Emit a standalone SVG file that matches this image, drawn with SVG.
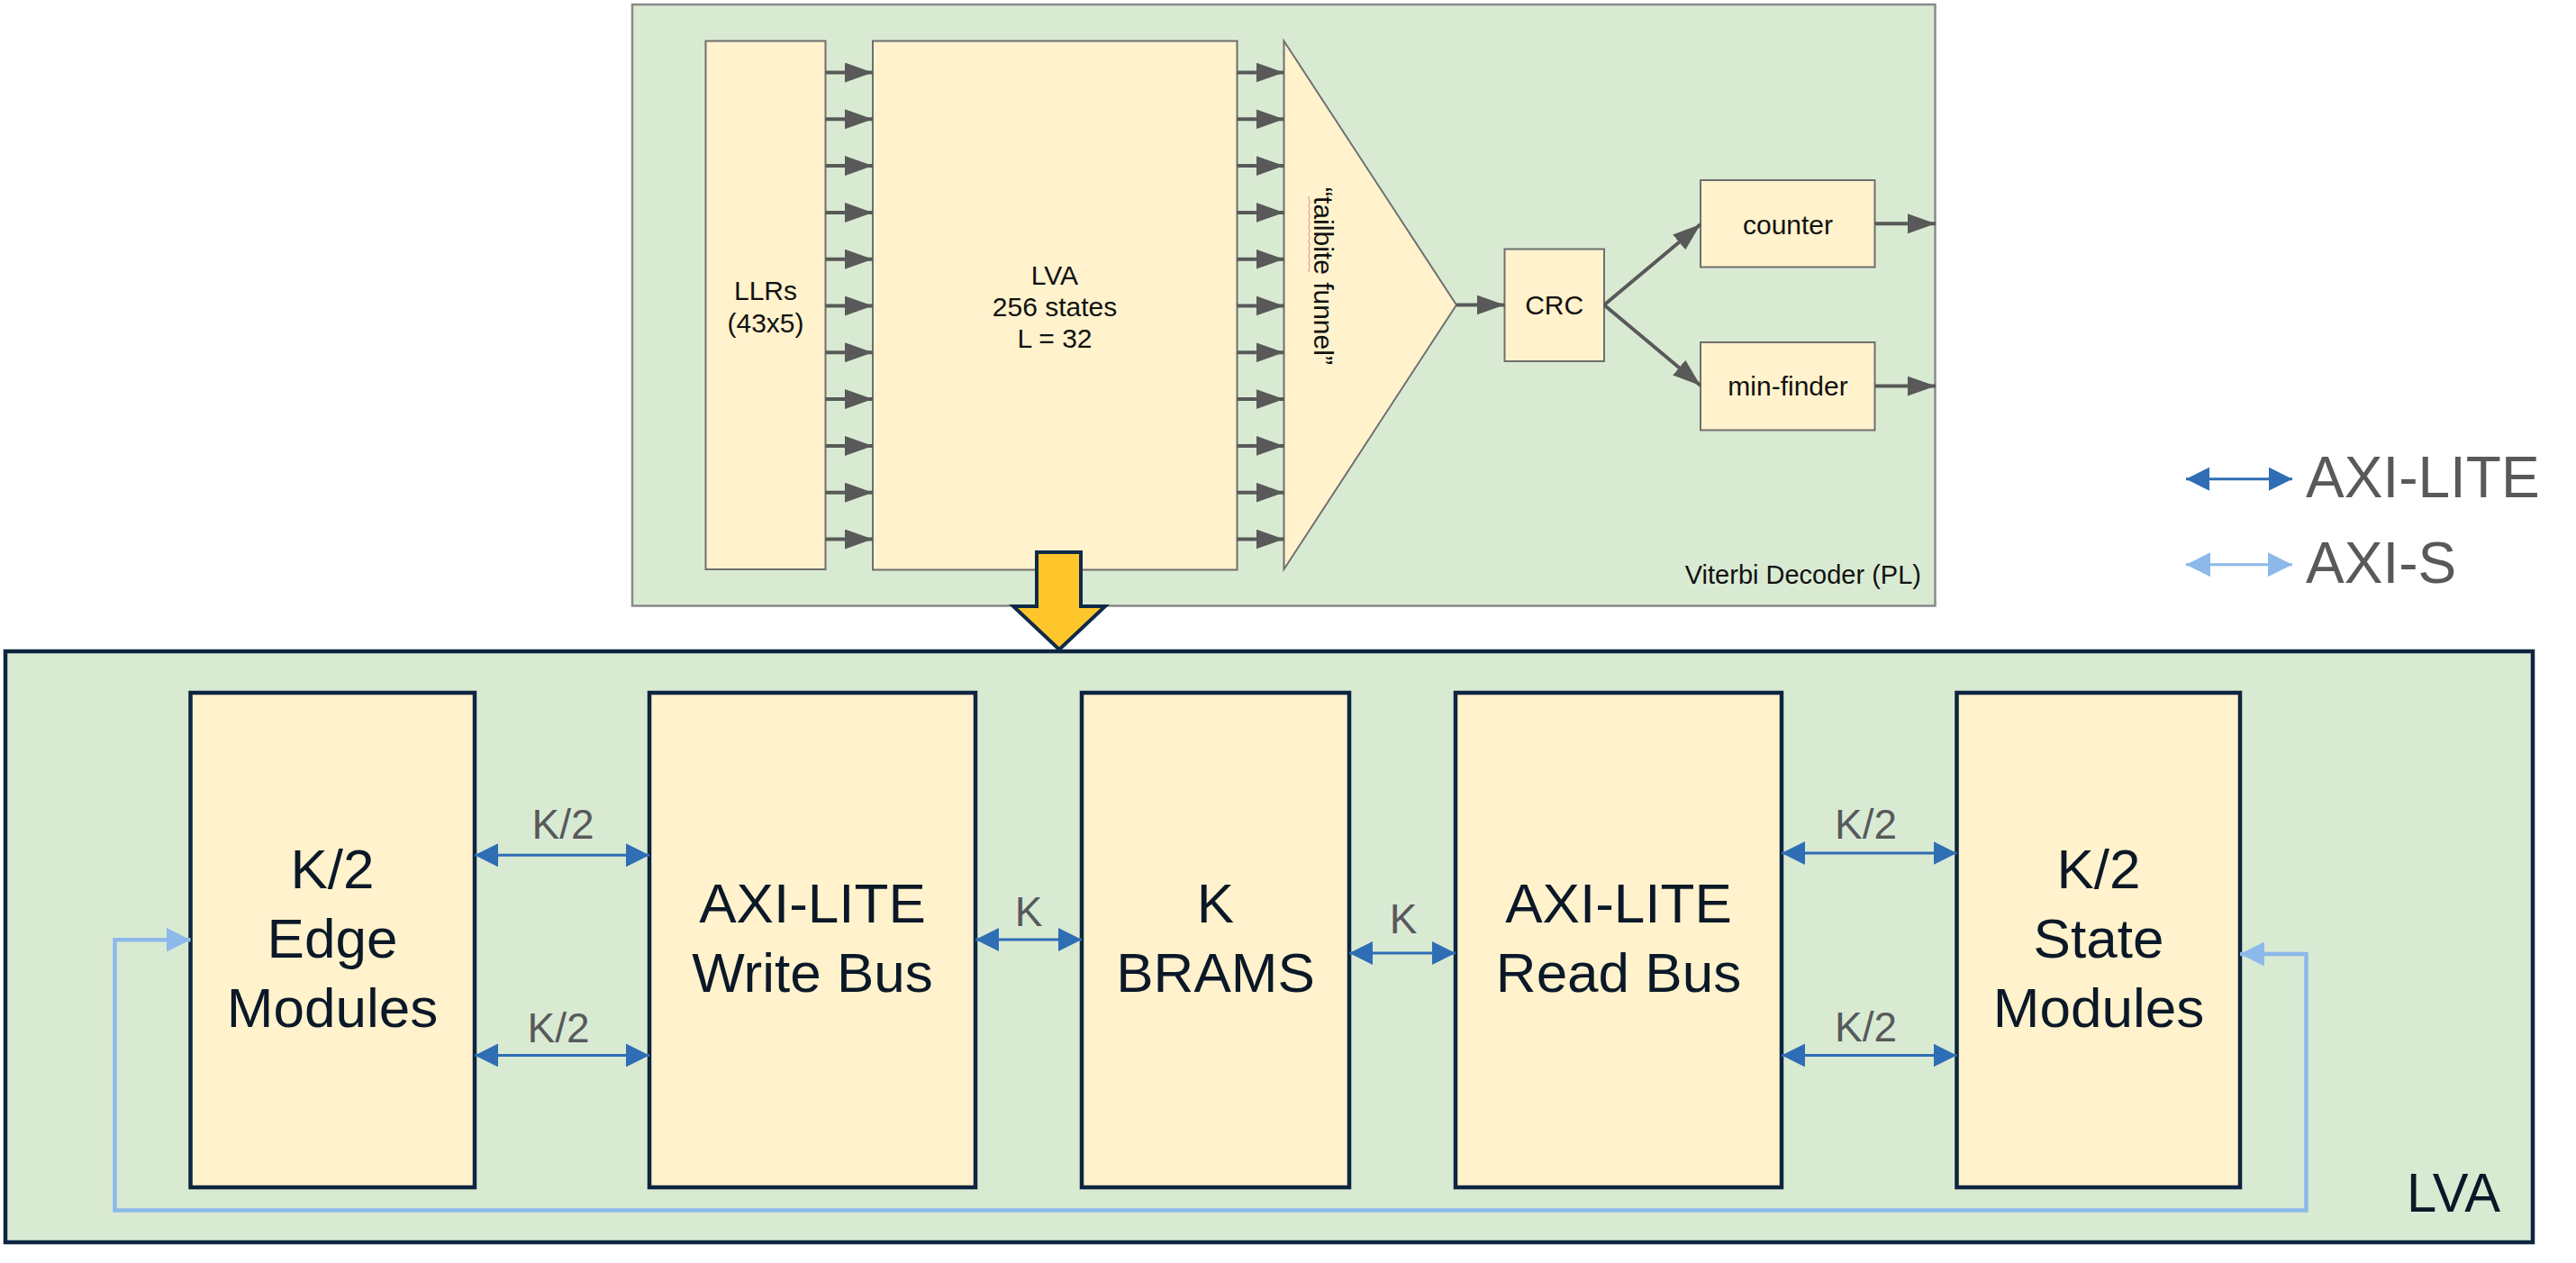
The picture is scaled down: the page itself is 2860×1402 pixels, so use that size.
<svg xmlns="http://www.w3.org/2000/svg" width="2860" height="1402" viewBox="0 0 2860 1402">
<defs>
<style>
.grp{fill:#d9ead3}
.tbox{fill:#fff2cc;stroke:#6f6f6f;stroke-width:2}
.bbox{fill:#fff2cc;stroke:#0d2540;stroke-width:4.5}
.ttxt{font-family:"Liberation Sans",Arial,sans-serif;font-size:30px;fill:#111;text-anchor:middle}
.btxt{font-family:"Liberation Sans",Arial,sans-serif;font-size:62px;fill:#0b1828;text-anchor:middle}
.lbl{font-family:"Liberation Sans",Arial,sans-serif;font-size:46px;fill:#58595b;text-anchor:middle}
.leg{font-family:"Liberation Sans",Arial,sans-serif;font-size:64px;fill:#58595b}
.ga{stroke:#595959;stroke-width:4;fill:none;marker-end:url(#mg)}
.ba{stroke:#2f6db5;stroke-width:3;fill:none;marker-start:url(#mb);marker-end:url(#mb)}
.sa{stroke:#8cb9e9;stroke-width:4.5;fill:none;marker-start:url(#ms);marker-end:url(#ms)}
</style>
<marker id="mg" markerUnits="userSpaceOnUse" markerWidth="31" markerHeight="22" refX="31" refY="11" orient="auto"><path d="M0,0 L31,11 L0,22 z" fill="#595959"/></marker>
<marker id="mb" markerUnits="userSpaceOnUse" markerWidth="26" markerHeight="26" refX="26" refY="13" orient="auto-start-reverse"><path d="M0,0 L26,13 L0,26 z" fill="#2f6db5"/></marker>
<marker id="ms" markerUnits="userSpaceOnUse" markerWidth="27" markerHeight="27" refX="27" refY="13.5" orient="auto-start-reverse"><path d="M0,0 L27,13.5 L0,27 z" fill="#8cb9e9"/></marker>
</defs>
<rect width="2860" height="1402" fill="#ffffff"/>

<!-- Viterbi decoder container -->
<g id="viterbi-decoder">
<rect class="grp" x="702" y="5" width="1446.5" height="667.5" stroke="#8a8a8a" stroke-width="2.5"/>
<text x="2133" y="647.5" class="ttxt" style="text-anchor:end;font-size:29px">Viterbi Decoder (PL)</text>
</g>
<g id="llrs">
<rect class="tbox" x="783.5" y="45.5" width="133" height="586.5"/>
<text class="ttxt" x="850" y="333">LLRs</text>
<text class="ttxt" x="850" y="368.5">(43x5)</text>
</g>
<g id="lva-top">
<rect class="tbox" x="969" y="45.5" width="404.5" height="587"/>
<text class="ttxt" x="1171" y="315.5">LVA</text>
<text class="ttxt" x="1171" y="350.5">256 states</text>
<text class="ttxt" x="1171" y="385.5">L = 32</text>
</g>
<g id="tailbite-funnel">
<polygon points="1425.5,45.5 1617,338.5 1425.5,632" fill="#fff2cc" stroke="#6f6f6f" stroke-width="2"/>
<text class="ttxt" transform="translate(1459,306.5) rotate(90)">“tailbite funnel”</text>
<path d="M1453.5,218 q-1.5,2 0,4 t0,4 t0,4 t0,4 t0,4 t0,4 t0,4 t0,4 t0,4 t0,4 t0,4 t0,4 t0,4 t0,4 t0,4 t0,4 t0,4 t0,4 t0,4 t0,4 t0,4" fill="none" stroke="#e88a8a" stroke-width="1"/>
</g>
<g id="crc">
<rect class="tbox" x="1670.5" y="276.5" width="110.5" height="124.5"/>
<text class="ttxt" x="1725.7" y="349">CRC</text>
</g>
<g id="counter">
<rect class="tbox" x="1888" y="200" width="193.5" height="96.5"/>
<text class="ttxt" x="1985" y="259.5">counter</text>
</g>
<g id="min-finder">
<rect class="tbox" x="1888" y="380" width="193.5" height="97.5"/>
<text class="ttxt" x="1985" y="439">min-finder</text>
</g>

<!-- LVA container -->
<g id="lva-container">
<rect class="grp" x="6" y="723" width="2806" height="656" stroke="#0d2540" stroke-width="4.5"/>
<text x="2776" y="1345" class="btxt" style="text-anchor:end;font-size:61px" textLength="104" lengthAdjust="spacingAndGlyphs">LVA</text>
</g>
<g id="edge-modules">
<rect class="bbox" x="211.5" y="769" width="315.5" height="549"/>
<text class="btxt" x="369" y="986">K/2</text>
<text class="btxt" x="369" y="1063">Edge</text>
<text class="btxt" x="369" y="1140">Modules</text>
</g>
<g id="write-bus">
<rect class="bbox" x="721" y="769" width="362" height="549"/>
<text class="btxt" x="902" y="1024">AXI-LITE</text>
<text class="btxt" x="902" y="1101">Write Bus</text>
</g>
<g id="brams">
<rect class="bbox" x="1201" y="769" width="297" height="549"/>
<text class="btxt" x="1349.5" y="1024">K</text>
<text class="btxt" x="1349.5" y="1101">BRAMS</text>
</g>
<g id="read-bus">
<rect class="bbox" x="1616" y="769" width="362" height="549"/>
<text class="btxt" x="1797" y="1024">AXI-LITE</text>
<text class="btxt" x="1797" y="1101">Read Bus</text>
</g>
<g id="state-modules">
<rect class="bbox" x="2172.5" y="769" width="314.5" height="549"/>
<text class="btxt" x="2330" y="986">K/2</text>
<text class="btxt" x="2330" y="1063">State</text>
<text class="btxt" x="2330" y="1140">Modules</text>
</g>

<!-- legend -->
<g id="legend">
<line class="ba" x1="2427" y1="531.7" x2="2545" y2="531.7"/>
<text class="leg" x="2560" y="551.7">AXI-LITE</text>
<line class="sa" x1="2427" y1="626.7" x2="2545" y2="626.7" style="stroke-width:3"/>
<text class="leg" x="2560" y="647.3">AXI-S</text>
</g>

<!-- connectors -->
<g id="connectors">
<line class="ga" x1="916.5" y1="80.5" x2="969" y2="80.5"/>
<line class="ga" x1="916.5" y1="132.3" x2="969" y2="132.3"/>
<line class="ga" x1="916.5" y1="184.1" x2="969" y2="184.1"/>
<line class="ga" x1="916.5" y1="235.9" x2="969" y2="235.9"/>
<line class="ga" x1="916.5" y1="287.7" x2="969" y2="287.7"/>
<line class="ga" x1="916.5" y1="339.5" x2="969" y2="339.5"/>
<line class="ga" x1="916.5" y1="391.3" x2="969" y2="391.3"/>
<line class="ga" x1="916.5" y1="443.1" x2="969" y2="443.1"/>
<line class="ga" x1="916.5" y1="494.9" x2="969" y2="494.9"/>
<line class="ga" x1="916.5" y1="546.7" x2="969" y2="546.7"/>
<line class="ga" x1="916.5" y1="598.5" x2="969" y2="598.5"/>

<line class="ga" x1="1373.5" y1="80.5" x2="1425.5" y2="80.5"/>
<line class="ga" x1="1373.5" y1="132.3" x2="1425.5" y2="132.3"/>
<line class="ga" x1="1373.5" y1="184.1" x2="1425.5" y2="184.1"/>
<line class="ga" x1="1373.5" y1="235.9" x2="1425.5" y2="235.9"/>
<line class="ga" x1="1373.5" y1="287.7" x2="1425.5" y2="287.7"/>
<line class="ga" x1="1373.5" y1="339.5" x2="1425.5" y2="339.5"/>
<line class="ga" x1="1373.5" y1="391.3" x2="1425.5" y2="391.3"/>
<line class="ga" x1="1373.5" y1="443.1" x2="1425.5" y2="443.1"/>
<line class="ga" x1="1373.5" y1="494.9" x2="1425.5" y2="494.9"/>
<line class="ga" x1="1373.5" y1="546.7" x2="1425.5" y2="546.7"/>
<line class="ga" x1="1373.5" y1="598.5" x2="1425.5" y2="598.5"/>

<line class="ga" x1="1617" y1="338.5" x2="1670.5" y2="338.5"/>
<line class="ga" x1="1781" y1="338.5" x2="1888" y2="249"/>
<line class="ga" x1="1781" y1="338.5" x2="1888" y2="428"/>
<line class="ga" x1="2081.5" y1="248.3" x2="2149" y2="248.3"/>
<line class="ga" x1="2081.5" y1="428.6" x2="2149" y2="428.6"/>

<line class="ba" x1="527" y1="949.3" x2="721" y2="949.3"/>
<line class="ba" x1="527" y1="1171.4" x2="721" y2="1171.4"/>
<line class="ba" x1="1083" y1="1043" x2="1201" y2="1043"/>
<line class="ba" x1="1498" y1="1058" x2="1616" y2="1058"/>
<line class="ba" x1="1978" y1="947" x2="2172.5" y2="947"/>
<line class="ba" x1="1978" y1="1171.4" x2="2172.5" y2="1171.4"/>
<path class="sa" d="M2487,1059 H2560.5 V1343.5 H127.5 V1043.3 H211.5"/>

<text class="lbl" x="625" y="930.5">K/2</text>
<text class="lbl" x="620" y="1156.5">K/2</text>
<text class="lbl" x="1142" y="1028">K</text>
<text class="lbl" x="1558" y="1035.5">K</text>
<text class="lbl" x="2071.5" y="930.5">K/2</text>
<text class="lbl" x="2071.5" y="1155.7">K/2</text>
</g>

<!-- expansion arrow -->
<g id="expand-arrow">
<polygon points="1151,613 1200,613 1200,673 1227,673 1176,721 1125,673 1151,673" fill="#ffc62b" stroke="#0f2a47" stroke-width="4" stroke-linejoin="miter"/>
</g>
</svg>
